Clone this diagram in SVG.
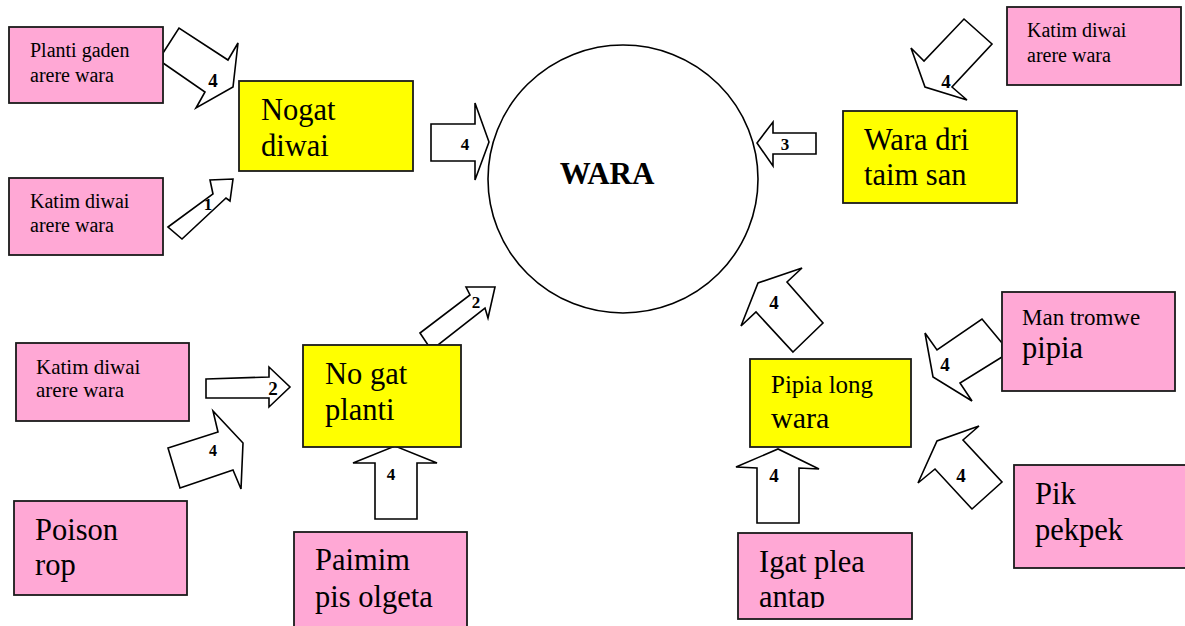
<svg xmlns="http://www.w3.org/2000/svg" width="1185" height="626" viewBox="0 0 1185 626">
<style>
  .pink{fill:#FFA8D5;stroke:#1a1a1a;stroke-width:1.8}
  .yel{fill:#FFFF00;stroke:#1a1a1a;stroke-width:1.8}
  .arr{fill:#ffffff;stroke:#000000;stroke-width:1.6;stroke-linejoin:miter}
  .t{font-family:"Liberation Serif","Times New Roman",serif;fill:#000000}
  .big{font-size:30.5px}
  .sm{font-size:20px}
  .lbl{font-family:"Liberation Serif","Times New Roman",serif;font-weight:bold;fill:#000000;text-anchor:middle}
</style>
<defs>
  <clipPath id="clipIgat"><rect x="738" y="533" width="174" height="75"/></clipPath>
</defs>
<rect x="0" y="0" width="1185" height="626" fill="#ffffff"/>

<g id="connectors">
  <polygon class="arr" points="163,53 179,28 228,60 238,43 233,87 196,108 205,92 163,63"/>
  <text class="lbl" x="213" y="87" font-size="19">4</text>
  <polygon class="arr" points="168,227 213,194 210,180 233,179 230,201 226,198 182,239"/>
  <text class="lbl" x="208" y="210" font-size="17">1</text>
  <polygon class="arr" points="431,124 475,124 475,103 489,142 475,180 475,161 431,161"/>
  <text class="lbl" x="465" y="150" font-size="17">4</text>
  <polygon class="arr" points="816,133 773,133 773,122 757,143 773,166 773,154 816,154"/>
  <text class="lbl" x="785" y="150" font-size="17">3</text>
  <polygon class="arr" points="964,19 992,44 952,87 967,100 925,87 911,48 924,61"/>
  <text class="lbl" x="946" y="88" font-size="19">4</text>
  <polygon class="arr" points="206,379 269,377 269,367 290,387 269,407 269,398 206,398"/>
  <text class="lbl" x="273" y="395" font-size="19">2</text>
  <polygon class="arr" points="168,448 218,432 213,411 243,443 241,489 233,470 180,488"/>
  <text class="lbl" x="213" y="456" font-size="16">4</text>
  <polygon class="arr" points="420,333 428,345 438,345 485,308 488,318 495,287 466,287 470,295"/>
  <text class="lbl" x="476" y="308" font-size="17">2</text>
  <polygon class="arr" points="375,519 375,463 353,463 395,446 437,463 417,463 417,519"/>
  <text class="lbl" x="391" y="480" font-size="17">4</text>
  <polygon class="arr" points="793,352 823,323 787,282 802,268 758,283 741,326 756,312"/>
  <text class="lbl" x="774" y="309" font-size="19">4</text>
  <polygon class="arr" points="1002,343 982,319 937,350 925,333 933,377 972,401 960,383 1002,357"/>
  <text class="lbl" x="945" y="371" font-size="19">4</text>
  <polygon class="arr" points="972,509 1002,482 963,440 979,426 937,441 918,483 935,469"/>
  <text class="lbl" x="961" y="482" font-size="19">4</text>
  <polygon class="arr" points="757,523 757,468 736,467 778,449 819,469 799,468 799,523"/>
  <text class="lbl" x="774" y="482" font-size="19">4</text>
</g>

<g id="wara">
  <ellipse cx="623" cy="179" rx="135" ry="134" fill="none" stroke="#000000" stroke-width="1.6"/>
  <text class="t" x="607" y="184" font-size="31" font-weight="bold" text-anchor="middle">WARA</text>
</g>

<g id="planti-gaden">
  <rect class="pink" x="9" y="27" width="154" height="76"/>
  <text class="t sm" x="30" y="57">Planti gaden</text>
  <text class="t sm" x="30" y="82">arere wara</text>
</g>

<g id="katim-diwai-1">
  <rect class="pink" x="9" y="178" width="154" height="77"/>
  <text class="t sm" x="30" y="208">Katim diwai</text>
  <text class="t sm" x="30" y="232">arere wara</text>
</g>

<g id="nogat-diwai">
  <rect class="yel" x="239" y="81" width="174" height="90"/>
  <text class="t big" x="261" y="120">Nogat</text>
  <text class="t big" x="261" y="156">diwai</text>
</g>

<g id="katim-diwai-2">
  <rect class="pink" x="1007" y="7" width="174" height="78"/>
  <text class="t sm" x="1027" y="37">Katim diwai</text>
  <text class="t sm" x="1027" y="62">arere wara</text>
</g>

<g id="wara-dri">
  <rect class="yel" x="843" y="111" width="174" height="92"/>
  <text class="t big" x="864" y="150">Wara dri</text>
  <text class="t big" x="864" y="185">taim san</text>
</g>

<g id="katim-diwai-3">
  <rect class="pink" x="16" y="343" width="173" height="78"/>
  <text class="t" font-size="21" x="36" y="374">Katim diwai</text>
  <text class="t" font-size="21" x="36" y="397">arere wara</text>
</g>

<g id="no-gat-planti">
  <rect class="yel" x="303" y="345" width="158" height="102"/>
  <text class="t big" x="325" y="384">No gat</text>
  <text class="t big" x="325" y="420">planti</text>
</g>

<g id="poison-rop">
  <rect class="pink" x="14" y="501" width="173" height="94"/>
  <text class="t big" x="35" y="540">Poison</text>
  <text class="t big" x="35" y="575">rop</text>
</g>

<g id="paimim">
  <rect class="pink" x="294" y="532" width="173" height="110"/>
  <text class="t big" x="315" y="570">Paimim</text>
  <text class="t big" x="315" y="607">pis olgeta</text>
</g>

<g id="pipia-long-wara">
  <rect class="yel" x="750" y="359" width="161" height="88"/>
  <text class="t" font-size="25" x="771" y="393">Pipia long</text>
  <text class="t" font-size="30" x="771" y="428">wara</text>
</g>

<g id="man-tromwe">
  <rect class="pink" x="1002" y="292" width="173" height="99"/>
  <text class="t" font-size="23" x="1022" y="325">Man tromwe</text>
  <text class="t" font-size="30.5" x="1022" y="358">pipia</text>
</g>

<g id="pik-pekpek">
  <rect class="pink" x="1014" y="465" width="180" height="103"/>
  <text class="t big" x="1035" y="504">Pik</text>
  <text class="t big" x="1035" y="540">pekpek</text>
</g>

<g id="igat-plea">
  <rect class="pink" x="738" y="533" width="174" height="86"/>
  <text class="t big" x="759" y="572">Igat plea</text>
  <text class="t big" x="759" y="607" clip-path="url(#clipIgat)">antap</text>
</g>
</svg>
